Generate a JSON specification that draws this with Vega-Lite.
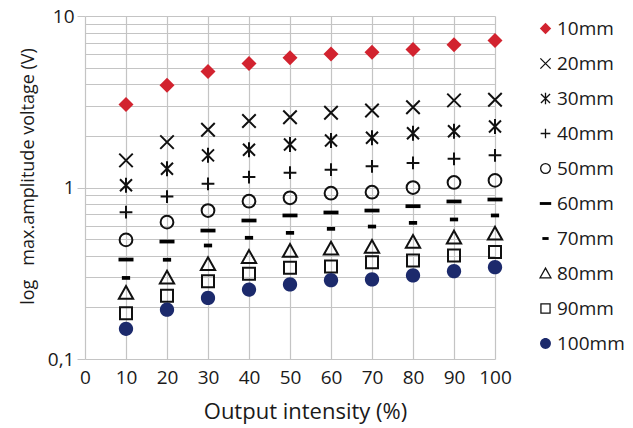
{
  "$schema": "https://vega.github.io/schema/vega-lite/v6.json",
  "autosize": "none",
  "width": 410,
  "height": 343,
  "padding": {"left": 85, "top": 16, "right": 138, "bottom": 69},
  "background": "white",
  "config": {
    "view": {"stroke": null},
    "font": "Open Sans",
    "axis": {"labelFont": "Open Sans", "titleFont": "Open Sans", "labelColor": "#1a1a1a", "titleColor": "#1a1a1a", "titleFontWeight": "normal", "gridColor": "#c4c4c4", "gridWidth": 1.2, "domain": false},
    "legend": {"labelFont": "Open Sans", "labelColor": "#1a1a1a"}
  },
  "data": {
    "values": [
      {"x": 10, "s": "10mm", "v": 3.05}, {"x": 20, "s": "10mm", "v": 3.95}, {"x": 30, "s": "10mm", "v": 4.75}, {"x": 40, "s": "10mm", "v": 5.28}, {"x": 50, "s": "10mm", "v": 5.71}, {"x": 60, "s": "10mm", "v": 6.0}, {"x": 70, "s": "10mm", "v": 6.15}, {"x": 80, "s": "10mm", "v": 6.38}, {"x": 90, "s": "10mm", "v": 6.79}, {"x": 100, "s": "10mm", "v": 7.2},
      {"x": 10, "s": "20mm", "v": 1.44}, {"x": 20, "s": "20mm", "v": 1.84}, {"x": 30, "s": "20mm", "v": 2.17}, {"x": 40, "s": "20mm", "v": 2.44}, {"x": 50, "s": "20mm", "v": 2.57}, {"x": 60, "s": "20mm", "v": 2.73}, {"x": 70, "s": "20mm", "v": 2.81}, {"x": 80, "s": "20mm", "v": 2.94}, {"x": 90, "s": "20mm", "v": 3.22}, {"x": 100, "s": "20mm", "v": 3.25},
      {"x": 10, "s": "30mm", "v": 1.03}, {"x": 20, "s": "30mm", "v": 1.285}, {"x": 30, "s": "30mm", "v": 1.54}, {"x": 40, "s": "30mm", "v": 1.66}, {"x": 50, "s": "30mm", "v": 1.78}, {"x": 60, "s": "30mm", "v": 1.88}, {"x": 70, "s": "30mm", "v": 1.95}, {"x": 80, "s": "30mm", "v": 2.07}, {"x": 90, "s": "30mm", "v": 2.13}, {"x": 100, "s": "30mm", "v": 2.27},
      {"x": 10, "s": "40mm", "v": 0.718}, {"x": 20, "s": "40mm", "v": 0.886}, {"x": 30, "s": "40mm", "v": 1.05}, {"x": 40, "s": "40mm", "v": 1.15}, {"x": 50, "s": "40mm", "v": 1.22}, {"x": 60, "s": "40mm", "v": 1.27}, {"x": 70, "s": "40mm", "v": 1.33}, {"x": 80, "s": "40mm", "v": 1.39}, {"x": 90, "s": "40mm", "v": 1.47}, {"x": 100, "s": "40mm", "v": 1.54},
      {"x": 10, "s": "50mm", "v": 0.495}, {"x": 20, "s": "50mm", "v": 0.628}, {"x": 30, "s": "50mm", "v": 0.734}, {"x": 40, "s": "50mm", "v": 0.832}, {"x": 50, "s": "50mm", "v": 0.871}, {"x": 60, "s": "50mm", "v": 0.926}, {"x": 70, "s": "50mm", "v": 0.939}, {"x": 80, "s": "50mm", "v": 1.0}, {"x": 90, "s": "50mm", "v": 1.07}, {"x": 100, "s": "50mm", "v": 1.1},
      {"x": 10, "s": "60mm", "v": 0.38}, {"x": 20, "s": "60mm", "v": 0.484}, {"x": 30, "s": "60mm", "v": 0.561}, {"x": 40, "s": "60mm", "v": 0.642}, {"x": 50, "s": "60mm", "v": 0.687}, {"x": 60, "s": "60mm", "v": 0.715}, {"x": 70, "s": "60mm", "v": 0.734}, {"x": 80, "s": "60mm", "v": 0.778}, {"x": 90, "s": "60mm", "v": 0.829}, {"x": 100, "s": "60mm", "v": 0.851},
      {"x": 10, "s": "70mm", "v": 0.297}, {"x": 20, "s": "70mm", "v": 0.379}, {"x": 30, "s": "70mm", "v": 0.459}, {"x": 40, "s": "70mm", "v": 0.509}, {"x": 50, "s": "70mm", "v": 0.544}, {"x": 60, "s": "70mm", "v": 0.574}, {"x": 70, "s": "70mm", "v": 0.592}, {"x": 80, "s": "70mm", "v": 0.622}, {"x": 90, "s": "70mm", "v": 0.651}, {"x": 100, "s": "70mm", "v": 0.687},
      {"x": 10, "s": "80mm", "v": 0.242}, {"x": 20, "s": "80mm", "v": 0.297}, {"x": 30, "s": "80mm", "v": 0.356}, {"x": 40, "s": "80mm", "v": 0.392}, {"x": 50, "s": "80mm", "v": 0.425}, {"x": 60, "s": "80mm", "v": 0.439}, {"x": 70, "s": "80mm", "v": 0.449}, {"x": 80, "s": "80mm", "v": 0.48}, {"x": 90, "s": "80mm", "v": 0.509}, {"x": 100, "s": "80mm", "v": 0.537},
      {"x": 10, "s": "90mm", "v": 0.185}, {"x": 20, "s": "90mm", "v": 0.234}, {"x": 30, "s": "90mm", "v": 0.284}, {"x": 40, "s": "90mm", "v": 0.314}, {"x": 50, "s": "90mm", "v": 0.34}, {"x": 60, "s": "90mm", "v": 0.346}, {"x": 70, "s": "90mm", "v": 0.367}, {"x": 80, "s": "90mm", "v": 0.375}, {"x": 90, "s": "90mm", "v": 0.401}, {"x": 100, "s": "90mm", "v": 0.42},
      {"x": 10, "s": "100mm", "v": 0.15}, {"x": 20, "s": "100mm", "v": 0.194}, {"x": 30, "s": "100mm", "v": 0.227}, {"x": 40, "s": "100mm", "v": 0.254}, {"x": 50, "s": "100mm", "v": 0.272}, {"x": 60, "s": "100mm", "v": 0.288}, {"x": 70, "s": "100mm", "v": 0.291}, {"x": 80, "s": "100mm", "v": 0.307}, {"x": 90, "s": "100mm", "v": 0.325}, {"x": 100, "s": "100mm", "v": 0.343}
    ]
  },
  "mark": {"type": "point", "size": 225, "strokeWidth": 2, "opacity": 1},
  "encoding": {
    "x": {
      "field": "x", "type": "quantitative",
      "scale": {"domain": [0, 100], "nice": false, "zero": false},
      "axis": {"values": [0, 10, 20, 30, 40, 50, 60, 70, 80, 90, 100], "ticks": false, "labelPadding": 9, "labelFontSize": 19, "grid": true, "title": "Output intensity (%)", "titleFontSize": 22, "titleX": 220, "titleY": 59, "titleBaseline": "alphabetic", "titleAlign": "center", "labelFlush": false}
    },
    "y": {
      "field": "v", "type": "quantitative",
      "scale": {"type": "log", "domain": [0.1, 10], "nice": false},
      "axis": {
        "values": [0.1, 0.2, 0.3, 0.4, 0.5, 0.6, 0.7, 0.8, 0.9, 1, 2, 3, 4, 5, 6, 7, 8, 9, 10],
        "labelExpr": "datum.value == 0.1 ? '0,1' : (datum.value == 1 ? '1' : (datum.value == 10 ? '10' : ''))",
        "labelOverlap": false, "labelFontSize": 19, "labelPadding": 3, "tickSize": 8, "tickColor": "#c4c4c4",
        "tickOpacity": {"condition": {"test": "datum.value == 0.1 || datum.value == 1 || datum.value == 10", "value": 1}, "value": 0},
        "labelFlush": false, "labelBound": false,
        "grid": true,
        "title": "log\u00a0\u00a0\u00a0max.amplitude voltage (V)", "titleFontSize": 18, "titleX": -52, "titleY": 160, "titleAngle": -90, "titleBaseline": "alphabetic", "titleAlign": "center"
      }
    },
    "shape": {
      "field": "s", "type": "nominal",
      "scale": {
        "domain": ["10mm", "20mm", "30mm", "40mm", "50mm", "60mm", "70mm", "80mm", "90mm", "100mm"],
        "range": [
          "M0,-1L1,0L0,1L-1,0Z",
          "M-0.9,-0.9L0.9,0.9M-0.9,0.9L0.9,-0.9",
          "M-0.8,-0.8L0.8,0.8M-0.8,0.8L0.8,-0.8M0,-1L0,1",
          "M-0.85,0L0.85,0M0,-0.85L0,0.85",
          "M-0.85,0A0.85,0.85 0 1,0 0.85,0A0.85,0.85 0 1,0 -0.85,0Z",
          "M-1,-0.25L1,-0.25L1,0.25L-1,0.25Z",
          "M-0.55,-0.25L0.55,-0.25L0.55,0.25L-0.55,0.25Z",
          "M0,-0.95L0.95,0.75L-0.95,0.75Z",
          "M-0.8,-0.8L0.8,-0.8L0.8,0.8L-0.8,0.8Z",
          "M-0.95,0A0.95,0.95 0 1,0 0.95,0A0.95,0.95 0 1,0 -0.95,0Z"
        ]
      },
      "legend": {"title": null, "orient": "none", "legendX": 451, "legendY": 3, "padding": 0, "labelFontSize": 19, "symbolSize": 130, "symbolStrokeWidth": 1.3, "rowPadding": 15, "labelOffset": 2}
    },
    "fill": {
      "field": "s", "type": "nominal",
      "scale": {
        "domain": ["10mm", "20mm", "30mm", "40mm", "50mm", "60mm", "70mm", "80mm", "90mm", "100mm"],
        "range": ["#d2232f", "transparent", "transparent", "transparent", "transparent", "#000000", "#000000", "transparent", "transparent", "#1c2a6c"]
      },
      "legend": {"title": null, "orient": "none", "legendX": 451, "legendY": 3, "padding": 0, "labelFontSize": 19, "symbolSize": 130, "symbolStrokeWidth": 1.3, "rowPadding": 15, "labelOffset": 2}
    },
    "stroke": {
      "field": "s", "type": "nominal",
      "scale": {
        "domain": ["10mm", "20mm", "30mm", "40mm", "50mm", "60mm", "70mm", "80mm", "90mm", "100mm"],
        "range": ["transparent", "#111111", "#111111", "#111111", "#111111", "transparent", "transparent", "#111111", "#111111", "transparent"]
      },
      "legend": {"title": null, "orient": "none", "legendX": 451, "legendY": 3, "padding": 0, "labelFontSize": 19, "symbolSize": 130, "symbolStrokeWidth": 1.3, "rowPadding": 15, "labelOffset": 2}
    }
  }
}
